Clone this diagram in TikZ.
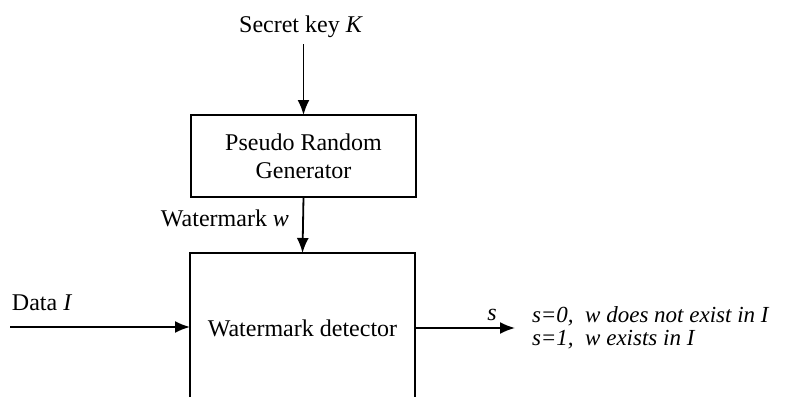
\documentclass[tikz,border=0pt]{standalone}
\usepackage{fontspec}
\setmainfont{Liberation Serif}
\usetikzlibrary{arrows.meta}
\begin{document}
\begin{tikzpicture}[x=1pt,y=-1pt,
  line width=1.8pt,
  every node/.style={inner sep=0pt,outer sep=0pt,font=\fontsize{24}{28}\selectfont},
  blk/.style={draw,minimum width=225pt,align=center},
  arr/.style={-{Latex[length=15pt,width=12pt]}}]
\useasboundingbox (0,0) rectangle (788,397);
\node (key) at (301,27) {Secret key \textit{K}};
\node[blk,minimum height=82pt] (prg) at (303.5,156) {Pseudo Random\\Generator};
\node[minimum width=225pt,minimum height=144pt] (det) at (302.5,325) {};
\node at (302.5,328) (dettext) {Watermark detector};
\draw (det.south west) -- (det.north west) -- (det.north east) -- (det.south east);
\node[anchor=east] (wm) at (289,218) {Watermark \textit{w}};
\node[anchor=west] (data) at (12,303) {Data \textit{I}};
\coordinate (ks) at (303.5,44);
\coordinate (dstart) at (10,327);
\coordinate (oend) at (515,328);
\draw[arr] (ks) -- (prg.north);
\draw[arr] (prg.south) -- (det.north);
\draw[arr] (dstart) -- (dstart -| det.west);
\draw[arr] (det.east |- oend) -- (oend);
\node (s) at (492,315) {\textit{s}};
\node[anchor=west,align=left,font=\fontsize{23}{23}\selectfont\itshape] (res) at (532,328)
  {s=0,\ \ w does not exist in I\\s=1,\ \ w exists in I};
\end{tikzpicture}
\end{document}
